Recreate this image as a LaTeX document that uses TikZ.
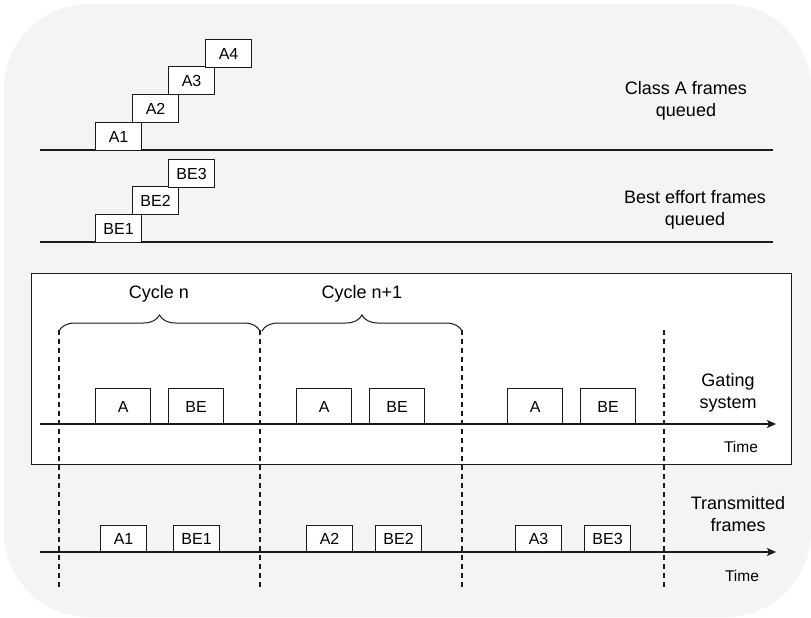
\documentclass[tikz,border=0pt]{standalone}
\usepackage{fontspec}
\setmainfont{Liberation Sans}
\usetikzlibrary{arrows.meta,decorations.pathreplacing}
\definecolor{bggray}{HTML}{F4F4F4}
\definecolor{edge}{HTML}{1A1A1A}
\begin{document}
\begin{tikzpicture}[x=1pt,y=-1pt,
  lbl/.style={font=\fontsize{18}{21.5}\selectfont,align=center,inner sep=0pt},
  smalllbl/.style={font=\fontsize{15.5}{18}\selectfont,inner sep=0pt},
  framebox/.style={draw=edge,fill=white,line width=1.2pt,inner sep=0pt,anchor=north west,font=\fontsize{16}{18}\selectfont},
  qbox/.style={framebox,minimum width=46pt,minimum height=28pt},
  gbox/.style={framebox,minimum width=55pt,minimum height=36pt},
  tbox/.style={framebox,minimum width=46pt,minimum height=27pt},
  baseline/.style={line width=1.2pt,draw=edge},
  timearrow/.style={line width=1.2pt,draw=edge,-{Stealth[length=9pt,width=8pt,inset=2pt]}},
  cycledash/.style={line width=1.2pt,draw=edge,dash pattern=on 5pt off 4pt},
  cyclebrace/.style={line width=1pt,draw=edge,decorate,decoration={brace,amplitude=16pt}}]
\useasboundingbox (0,0) rectangle (811,618);
\fill[bggray,rounded corners=85pt] (4,4) rectangle (811,617);
% gating panel
\node[draw=edge,fill=white,line width=1.4pt,minimum width=760pt,minimum height=191pt,anchor=north west,inner sep=0pt] (panel) at (31,273) {};

% Class A queue
\coordinate (qaL) at (40,150);
\coordinate (qaR) at (773,150);
\draw[baseline] (qaL) -- (qaR);
\node[qbox] (qa1) at (95,122) {A1};
\node[qbox] (qa2) at (132,94) {A2};
\node[qbox] (qa3) at (168,66) {A3};
\node[qbox] (qa4) at (205,39) {A4};
\node[lbl] (qatext) at (686,101) {Class A frames\\queued};

% BE queue
\coordinate (qbL) at (40,242);
\coordinate (qbR) at (773,242);
\draw[baseline] (qbL) -- (qbR);
\node[qbox] (qb1) at (95,214) {BE1};
\node[qbox] (qb2) at (132,186) {BE2};
\node[qbox] (qb3) at (168,159) {BE3};
\node[lbl] (qbtext) at (695,210) {Best effort frames\\queued};

% cycles
\coordinate (d1t) at (59,330); \coordinate (d1b) at (59,590);
\coordinate (d2t) at (260,330); \coordinate (d2b) at (260,590);
\coordinate (d3t) at (462,330); \coordinate (d3b) at (462,590);
\coordinate (d4t) at (664,330); \coordinate (d4b) at (664,590);
\draw[cycledash] (d1t) -- (d1b);
\draw[cycledash] (d2t) -- (d2b);
\draw[cycledash] (d3t) -- (d3b);
\draw[cycledash] (d4t) -- (d4b);
\coordinate (b1a) at (59,331); \coordinate (b1b) at (260,331);
\coordinate (b2a) at (262,331); \coordinate (b2b) at (462,331);
\draw[cyclebrace] (b1a) -- (b1b);
\draw[cyclebrace] (b2a) -- (b2b);
\node[lbl] (c1) at (159,294) {Cycle n};
\node[lbl] (c2) at (362,294) {Cycle n+1};

% gating system
\coordinate (gL) at (40,424);
\coordinate (gR) at (776,424);
\node[gbox] (g1) at (95,388) {A};
\node[gbox] (g2) at (168,388) {BE};
\node[gbox] (g3) at (296,388) {A};
\node[gbox] (g4) at (369,388) {BE};
\node[gbox] (g5) at (507,388) {A};
\node[gbox] (g6) at (580,388) {BE};
\draw[timearrow] (gL) -- (gR);
\node[lbl] (gtext) at (728,393) {Gating\\system};
\node[smalllbl] (gtime) at (741,447) {Time};

% transmitted
\coordinate (tL) at (40,552);
\coordinate (tR) at (776,552);
\node[tbox] (t1) at (100,525) {A1};
\node[tbox] (t2) at (173,525) {BE1};
\node[tbox] (t3) at (306,525) {A2};
\node[tbox] (t4) at (375,525) {BE2};
\node[tbox] (t5) at (515,525) {A3};
\node[tbox] (t6) at (584,525) {BE3};
\draw[timearrow] (tL) -- (tR);
\node[lbl] (ttext) at (738,514) {Transmitted\\frames};
\node[smalllbl] (ttime) at (742,576) {Time};
\end{tikzpicture}
\end{document}
